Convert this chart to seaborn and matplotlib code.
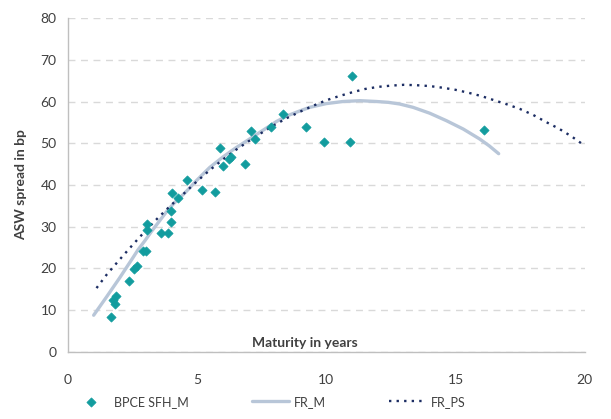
import pandas as pd
import seaborn as sns
import matplotlib.pyplot as plt

sns.set_style("white")
plt.rcParams['font.family'] = ['Lato', 'DejaVu Sans']

# observed spreads (maturity in years, ASW spread in bp)
bpce_x = [1.69, 1.75, 1.84, 1.88, 2.37, 2.56, 2.68, 2.89, 3.04, 3.07, 3.07, 3.62,
          3.88, 3.98, 3.98, 4.04, 4.27, 4.63, 5.21, 5.69, 5.88, 6.01, 6.23, 6.33,
          6.85, 7.07, 7.23, 7.85, 8.31, 9.21, 9.90, 10.91, 11.01, 16.09]
bpce_y = [8.3, 12.5, 11.5, 13.5, 17.1, 19.9, 20.5, 24.2, 24.2, 29.3, 30.7, 28.5,
          28.5, 31.1, 33.7, 38.0, 36.9, 41.2, 38.9, 38.3, 48.9, 44.5, 46.2, 46.6,
          45.1, 52.9, 51.0, 53.8, 56.9, 53.8, 50.4, 50.2, 66.2, 53.2]

# fitted curves
fr_m_x = [1.0, 1.5, 2.0, 2.5, 2.72, 3.0, 3.24, 3.5, 3.88, 4.2, 4.53, 5.0, 5.49,
          6.0, 6.5, 6.78, 7.5, 8.07, 8.5, 9.0, 9.36, 10.0, 10.65, 11.3, 11.94,
          12.4, 12.84, 13.36, 14.0, 14.65, 15.3, 15.94, 16.3, 16.67]
fr_m_y = [8.8, 13.2, 17.7, 22.4, 24.5, 26.8, 28.9, 31.0, 34.1, 36.2, 38.1, 41.2, 44.2,
          46.7, 48.9, 50.0, 52.9, 55.2, 56.6, 57.8, 58.6, 59.5, 60.0, 60.2, 60.0,
          59.8, 59.4, 58.6, 57.2, 55.4, 53.4, 51.0, 49.4, 47.5]

fr_ps_x = [1.11, 1.5, 2.0, 2.5, 3.0, 3.5, 4.0, 4.5, 5.0, 5.5, 6.0, 6.5, 7.0, 7.5,
           8.0, 8.5, 9.0, 9.5, 10.0, 10.5, 11.0, 11.5, 12.0, 12.5, 13.0, 13.5,
           14.0, 14.5, 15.0, 15.5, 16.0, 16.5, 17.0, 17.5, 18.0, 18.5, 19.0, 19.5, 20.0]
fr_ps_y = [15.3, 18.5, 22.1, 25.6, 29.0, 32.2, 35.2, 38.0, 40.9, 43.6, 46.1, 48.4, 50.5, 52.5,
           54.4, 56.1, 57.6, 59.0, 60.3, 61.3, 62.2, 63.0, 63.5, 63.8, 64.0, 63.9,
           63.7, 63.3, 62.8, 62.1, 61.3, 60.3, 59.3, 58.2, 56.8, 55.1, 53.5, 51.6, 49.4]

x_ticks = [0, 5, 10, 15, 20]
y_ticks = [0, 10, 20, 30, 40, 50, 60, 70, 80]

teal = '#129c9e'
grey_line = '#b8c6d8'
navy = '#1c2d63'
txt = '#404040'

fig = plt.figure(figsize=(6.11, 4.19), dpi=100)
ax = fig.add_axes([0.111, 0.16, 0.846, 0.797])

sns.lineplot(x=fr_m_x, y=fr_m_y, ax=ax, color=grey_line, lw=2.4, label='FR_M',
             zorder=2, sort=False)
sns.lineplot(x=fr_ps_x, y=fr_ps_y, ax=ax, color=navy, lw=1.7, label='FR_PS',
             zorder=3, sort=False)
ax.lines[-1].set_dashes((1, 2.2))
sns.scatterplot(x=bpce_x, y=bpce_y, ax=ax, color=teal, marker='D', s=22,
                edgecolor=teal, linewidth=0.5, label='BPCE SFH_M', zorder=4)

ax.set_xlim(0, 20)
ax.set_ylim(0, 80)
ax.set_xticks(x_ticks)
ax.set_yticks(y_ticks)
ax.yaxis.grid(True, color='#d9d9d9', linestyle=(0, (5, 4)), lw=1)
ax.set_axisbelow(True)

for s in ['top', 'right']:
    ax.spines[s].set_visible(False)
for s in ['left', 'bottom']:
    ax.spines[s].set_color('#bfbfbf')
    ax.spines[s].set_linewidth(1)

ax.tick_params(axis='y', length=4, color='#bfbfbf', labelsize=10, labelcolor=txt, pad=4)
ax.tick_params(axis='x', length=4, color='#bfbfbf', labelsize=10, labelcolor=txt, pad=12)

ax.set_xlabel('Maturity in years', fontsize=10, fontweight='bold', color=txt)
ax.xaxis.set_label_coords(0.458, 0.045)
ax.set_ylabel('ASW spread in bp', fontsize=10, fontweight='bold', color=txt)
ax.yaxis.set_label_coords(-0.078, 0.5)

handles, labels = ax.get_legend_handles_labels()
order = [labels.index(l) for l in ['BPCE SFH_M', 'FR_M', 'FR_PS']]
ax.legend([handles[i] for i in order], [labels[i] for i in order],
          loc='lower center', bbox_to_anchor=(0.44, 0.0), bbox_transform=fig.transFigure,
          ncol=3, frameon=False, fontsize=9, handlelength=3.0, columnspacing=5.0,
          handletextpad=0.4, labelcolor=txt)

fig.savefig('out.png', dpi=100)
